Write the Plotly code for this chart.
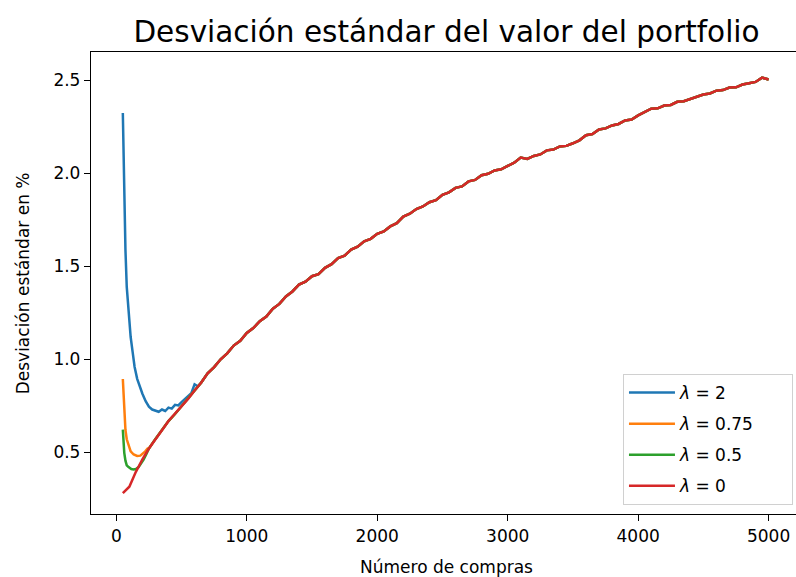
import plotly.graph_objects as go

# Número de compras (x) and standard deviation in % (y)
red_x = list(range(50, 5001, 50))
red_y = [0.280, 0.315, 0.395, 0.462, 0.520, 0.572, 0.618, 0.668, 0.706, 0.748,
         0.787, 0.832, 0.874, 0.925, 0.958, 1.000, 1.032, 1.074, 1.100, 1.142,
         1.168, 1.205, 1.230, 1.272, 1.298, 1.338, 1.365, 1.402, 1.418, 1.447,
         1.458, 1.492, 1.512, 1.545, 1.558, 1.590, 1.606, 1.635, 1.648, 1.675,
         1.688, 1.715, 1.732, 1.768, 1.783, 1.808, 1.822, 1.845, 1.856, 1.885,
         1.898, 1.922, 1.930, 1.957, 1.965, 1.990, 1.998, 2.016, 2.022, 2.040,
         2.058, 2.085, 2.078, 2.094, 2.102, 2.124, 2.128, 2.145, 2.148, 2.162,
         2.178, 2.205, 2.212, 2.236, 2.242, 2.258, 2.266, 2.285, 2.290, 2.312,
         2.328, 2.348, 2.350, 2.365, 2.368, 2.385, 2.388, 2.400, 2.408, 2.424,
         2.430, 2.445, 2.448, 2.462, 2.463, 2.478, 2.485, 2.492, 2.515, 2.505]

blue_head_x = [50, 55, 60, 70, 80, 90, 100, 110, 125, 140, 160, 180, 200, 225, 250,
               275, 300, 325, 350, 375, 400, 425, 450, 475, 500, 525, 550, 575, 600, 625]
blue_head_y = [2.325, 2.08, 1.90, 1.59, 1.39, 1.28, 1.19, 1.12, 1.04, 0.96, 0.895, 0.85,
               0.815, 0.775, 0.745, 0.73, 0.725, 0.718, 0.73, 0.722, 0.74, 0.735, 0.755,
               0.752, 0.77, 0.785, 0.80, 0.818, 0.865, 0.855]
blue_join = 650

orange_head_x = [50, 56, 62, 70, 80, 95, 110, 133, 160, 184, 200, 222, 240]
orange_head_y = [0.894, 0.80, 0.70, 0.62, 0.57, 0.532, 0.505, 0.488, 0.48, 0.482, 0.49, 0.505, 0.52]
orange_join = 250

green_head_x = [50, 55, 61, 70, 80, 94, 115, 133, 150, 171, 190, 209, 230]
green_head_y = [0.622, 0.55, 0.497, 0.455, 0.43, 0.42, 0.41, 0.407, 0.41, 0.42, 0.44, 0.46, 0.49]
green_join = 250

labels = ["<i>λ</i> = 2", "<i>λ</i> = 0.75", "<i>λ</i> = 0.5", "<i>λ</i> = 0"]
colors = ["#1f77b4", "#ff7f0e", "#2ca02c", "#d62728"]


def joined(hx, hy, join):
    tx = [x for x in red_x if x >= join]
    ty = [y for x, y in zip(red_x, red_y) if x >= join]
    return hx + tx, hy + ty


series = [joined(blue_head_x, blue_head_y, blue_join),
          joined(orange_head_x, orange_head_y, orange_join),
          joined(green_head_x, green_head_y, green_join),
          (red_x, red_y)]

FONT = "DejaVu Sans"
fig = go.Figure()
for i, ((xs, ys), name, c) in enumerate(zip(series, labels, colors)):
    fig.add_trace(go.Scatter(x=xs, y=ys, mode="lines", name=name + "\u00a0" * 6,
                             legendgroup=f"g{i}",
                             line=dict(color=c, width=2.5)))

fig.update_layout(
    width=796, height=577,
    margin=dict(l=91, r=0, t=52, b=63),
    paper_bgcolor="white", plot_bgcolor="white",
    font=dict(family=FONT, size=17, color="black"),
    title=dict(text="Desviación estándar del valor del portfolio",
               x=446.5 / 796, xref="container", xanchor="center",
               y=1 - 32 / 577, yref="container", yanchor="middle",
               font=dict(family=FONT, size=29.5, color="black")),
    showlegend=True,
    legend=dict(x=0.9957, y=0.0195, xanchor="right", yanchor="bottom",
                bgcolor="white", bordercolor="#d0d0d0", borderwidth=1,
                font=dict(family=FONT, size=17, color="black"),
                traceorder="grouped", tracegroupgap=6, itemwidth=46),
    annotations=[
        dict(text="Número de compras", xref="paper", yref="paper",
             x=(446 - 90.7) / 705.3, y=(514 - 567) / 461.7,
             xanchor="center", yanchor="middle", showarrow=False,
             font=dict(family=FONT, size=17, color="black")),
        dict(text="Desviación estándar en %", xref="paper", yref="paper",
             x=(23 - 90.7) / 705.3, y=0.5, textangle=-90,
             xanchor="center", yanchor="middle", showarrow=False,
             font=dict(family=FONT, size=17, color="black")),
    ],
)

fig.update_xaxes(range=[-194, 5210], tickvals=[0, 1000, 2000, 3000, 4000, 5000],
                 ticks="outside", ticklen=6, tickwidth=1.2, tickcolor="black",
                 showline=True, linecolor="black", linewidth=1.3, mirror=True,
                 showgrid=False, zeroline=False, automargin=False,
                 tickfont=dict(family=FONT, size=17, color="black"))
fig.update_yaxes(range=[0.168, 2.653], tickvals=[0.5, 1.0, 1.5, 2.0, 2.5],
                 ticktext=["0.5", "1.0", "1.5", "2.0", "2.5"],
                 ticks="outside", ticklen=6, tickwidth=1.2, tickcolor="black",
                 showline=True, linecolor="black", linewidth=1.3,
                 showgrid=False, zeroline=False, automargin=False,
                 tickfont=dict(family=FONT, size=17, color="black"))

fig.write_html("out.html", config={"displayModeBar": False},
               post_script="document.body.style.margin='0';document.body.style.overflow='hidden';")
